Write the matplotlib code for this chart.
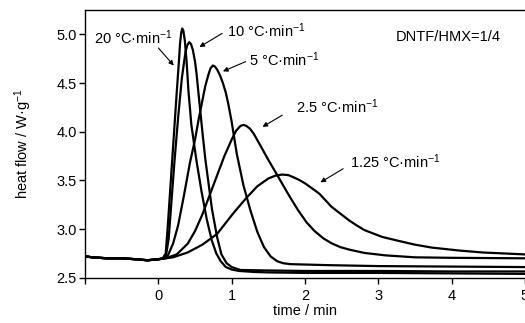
import numpy as np
import matplotlib
matplotlib.use("Agg")
import matplotlib.pyplot as plt

plt.rcParams['font.family'] = ['Liberation Sans Narrow', 'Liberation Sans', 'DejaVu Sans']
plt.rcParams['mathtext.default'] = 'regular'
plt.rcParams['font.size'] = 10.5

# DSC curves (time / min, heat flow / W g-1)
x_20 = [-1.0, -0.9, -0.7, -0.5, -0.3, -0.15, 0.0, 0.06, 0.10, 0.13, 0.17, 0.21, 0.25, 0.28, 0.295, 0.31, 0.325,
        0.34, 0.36, 0.385, 0.41, 0.45, 0.52, 0.59, 0.66, 0.73, 0.79, 0.85, 0.92, 1.0, 1.1, 1.3, 1.5, 2.0, 3.0, 4.0, 5.0]
y_20 = [2.72, 2.71, 2.70, 2.70, 2.69, 2.68, 2.69, 2.70, 2.75, 3.05, 3.50, 3.95, 4.40, 4.72, 4.90, 5.01, 5.06,
        5.04, 4.94, 4.72, 4.42, 4.07, 3.70, 3.38, 3.10, 2.88, 2.75, 2.67, 2.61, 2.585, 2.57, 2.56, 2.555, 2.55, 2.55, 2.545, 2.54]

x_10 = [-1.0, -0.9, -0.7, -0.5, -0.3, -0.15, 0.0, 0.06, 0.10, 0.14, 0.18, 0.22, 0.27, 0.32, 0.37, 0.395, 0.42,
        0.445, 0.47, 0.50, 0.52, 0.545, 0.60, 0.64, 0.73, 0.80, 0.86, 0.93, 1.0, 1.12, 1.5, 2.0, 3.0, 4.0, 5.0]
y_10 = [2.72, 2.71, 2.70, 2.70, 2.69, 2.68, 2.69, 2.70, 2.71, 2.90, 3.30, 3.70, 4.15, 4.55, 4.82, 4.89, 4.92,
        4.90, 4.84, 4.72, 4.60, 4.41, 4.00, 3.72, 3.21, 2.92, 2.74, 2.65, 2.61, 2.58, 2.575, 2.57, 2.57, 2.565, 2.565]

x_5 = [-1.0, -0.9, -0.7, -0.5, -0.3, -0.15, 0.0, 0.07, 0.13, 0.20, 0.27, 0.35, 0.43, 0.50, 0.55, 0.60, 0.64,
       0.68, 0.71, 0.743, 0.77, 0.80, 0.84, 0.88, 0.92, 0.955, 1.0, 1.07, 1.16, 1.256, 1.35, 1.44, 1.53, 1.62,
       1.7, 1.8, 2.3, 3.0, 4.0, 5.0]
y_5 = [2.72, 2.71, 2.70, 2.70, 2.69, 2.68, 2.69, 2.70, 2.73, 2.85, 3.04, 3.35, 3.68, 3.92, 4.13, 4.32, 4.47,
       4.58, 4.65, 4.68, 4.67, 4.64, 4.58, 4.50, 4.40, 4.28, 4.10, 3.77, 3.45, 3.19, 2.97, 2.815, 2.72, 2.67,
       2.65, 2.64, 2.63, 2.62, 2.615, 2.61]

x_2_5 = [-1.0, -0.9, -0.7, -0.5, -0.3, -0.15, 0.0, 0.10, 0.25, 0.40, 0.50, 0.60, 0.70, 0.80, 0.90, 1.0,
         1.06, 1.12, 1.16, 1.20, 1.25, 1.30, 1.39, 1.50, 1.64, 1.77, 1.90, 2.02, 2.13, 2.25, 2.36, 2.48, 2.60,
         2.81, 3.1, 3.5, 4.0, 5.0]
y_2_5 = [2.72, 2.71, 2.70, 2.70, 2.69, 2.68, 2.69, 2.70, 2.74, 2.85, 2.98, 3.15, 3.35, 3.55, 3.75, 3.92,
         4.01, 4.06, 4.07, 4.06, 4.03, 3.98, 3.86, 3.71, 3.53, 3.36, 3.20, 3.07, 2.98, 2.905, 2.855, 2.815, 2.79,
         2.755, 2.73, 2.71, 2.705, 2.70]

x_1_25 = [-1.0, -0.9, -0.7, -0.5, -0.3, -0.15, 0.0, 0.2, 0.4, 0.6, 0.8, 1.03, 1.2, 1.35, 1.5, 1.6, 1.69,
          1.77, 1.85, 1.92, 2.0, 2.13, 2.2, 2.36, 2.48, 2.6, 2.7, 2.81, 2.93, 3.05, 3.27, 3.5, 3.73, 4.1, 4.42, 5.0]
y_1_25 = [2.72, 2.71, 2.70, 2.70, 2.69, 2.68, 2.69, 2.71, 2.76, 2.84, 2.95, 3.17, 3.32, 3.44, 3.52, 3.55, 3.56,
          3.555, 3.53, 3.505, 3.47, 3.40, 3.36, 3.23, 3.16, 3.09, 3.04, 2.99, 2.955, 2.92, 2.88, 2.84, 2.81, 2.78, 2.76, 2.74]

curves = [(x_20, y_20), (x_10, y_10), (x_5, y_5), (x_2_5, y_2_5), (x_1_25, y_1_25)]

# rate labels: text, text start, arrow tail, arrow head
rate_labels = ['20', '10', '5', '2.5', '1.25']
label_pos = [(-0.88, 4.97), (0.93, 5.04), (1.23, 4.74), (1.875, 4.255), (2.61, 3.69)]
arrow_tail = [(0.0, 4.86), (0.87, 5.01), (1.19, 4.72), (1.69, 4.17), (2.52, 3.62)]
arrow_head = [(0.21, 4.68), (0.56, 4.87), (0.88, 4.62), (1.42, 4.05), (2.21, 3.48)]

x_ticks = [-1, 0, 1, 2, 3, 4, 5]
x_tick_labels = ['', '0', '1', '2', '3', '4', '5']
y_ticks = [2.5, 3.0, 3.5, 4.0, 4.5, 5.0]

fig = plt.figure(figsize=(5.25, 3.23), dpi=100)
ax = fig.add_axes([0.162, 0.140, 0.838, 0.829])

for xs, ys in curves:
    ax.plot(xs, ys, color='black', lw=1.6, solid_joinstyle='round', solid_capstyle='round')

ax.set_xlim(-1.0, 5.0)
ax.set_ylim(2.5, 5.25)
ax.set_xticks(x_ticks, labels=x_tick_labels)
ax.set_yticks(y_ticks, labels=[f'{v:.1f}' for v in y_ticks])
ax.tick_params(direction='out', length=4, width=1, pad=2)
ax.tick_params(axis='x', pad=4)
ax.spines['right'].set_visible(False)
for s in ['left', 'bottom', 'top']:
    ax.spines[s].set_linewidth(1.0)

ax.set_xlabel('time / min', labelpad=1)
ax.set_ylabel('heat flow / W·g$^{-1}$', labelpad=16)

arrow = dict(arrowstyle='-|>', color='black', lw=0.8, mutation_scale=7, shrinkA=0, shrinkB=0)
for lab, pos, tail, head in zip(rate_labels, label_pos, arrow_tail, arrow_head):
    ax.text(pos[0], pos[1], lab + ' °C·min$^{-1}$', ha='left', va='center')
    ax.annotate('', xy=head, xytext=tail, arrowprops=arrow)
ax.text(3.24, 4.975, 'DNTF/HMX=1/4', ha='left', va='center')

fig.savefig('out.png', dpi=100)
